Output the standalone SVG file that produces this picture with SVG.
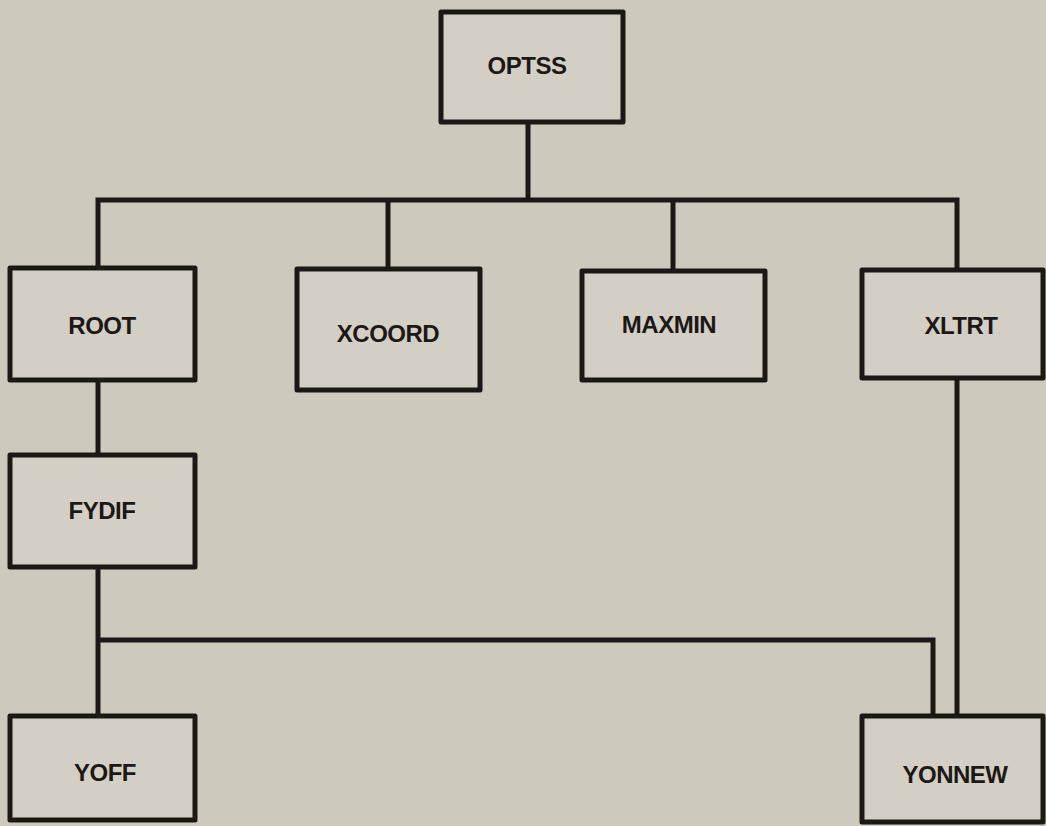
<svg xmlns="http://www.w3.org/2000/svg" width="1046" height="826" viewBox="0 0 1046 826">
<style>
.box{fill:#d3cfc4;stroke:#1c1816;stroke-width:5;stroke-linejoin:round}
.lbl{font-family:"Liberation Sans",Arial,sans-serif;font-weight:bold;font-size:24px;fill:#1c1816;text-anchor:middle;letter-spacing:-0.5px}
.con{fill:none;stroke:#1c1816;stroke-width:5;stroke-linejoin:miter}
</style>
<rect width="1046" height="826" fill="#cdc9bd"/>
<g id="connectors">
<path class="con" d="M528 122 V200"/>
<path class="con" d="M98 268 V200 H957 V270"/>
<path class="con" d="M388 200 V269"/>
<path class="con" d="M673 200 V271"/>
<path class="con" d="M98 380 V455"/>
<path class="con" d="M98 567 V716"/>
<path class="con" d="M98 640 H933 V716"/>
<path class="con" d="M957 378 V716"/>
</g>
<g id="OPTSS"><rect class="box" x="441" y="12" width="182" height="110"/><text class="lbl" x="527" y="74">OPTSS</text></g>
<g id="ROOT"><rect class="box" x="10" y="268" width="185" height="112"/><text class="lbl" x="102" y="334">ROOT</text></g>
<g id="XCOORD"><rect class="box" x="297" y="269" width="183" height="121"/><text class="lbl" x="388" y="342">XCOORD</text></g>
<g id="MAXMIN"><rect class="box" x="582" y="271" width="183" height="109"/><text class="lbl" x="669" y="333">MAXMIN</text></g>
<g id="XLTRT"><rect class="box" x="862" y="270" width="181" height="108"/><text class="lbl" x="961" y="334">XLTRT</text></g>
<g id="FYDIF"><rect class="box" x="10" y="455" width="185" height="112"/><text class="lbl" x="102" y="519">FYDIF</text></g>
<g id="YOFF"><rect class="box" x="10" y="716" width="185" height="104"/><text class="lbl" x="105" y="781">YOFF</text></g>
<g id="YONNEW"><rect class="box" x="862" y="716" width="181" height="106"/><text class="lbl" x="955" y="783">YONNEW</text></g>
</svg>
